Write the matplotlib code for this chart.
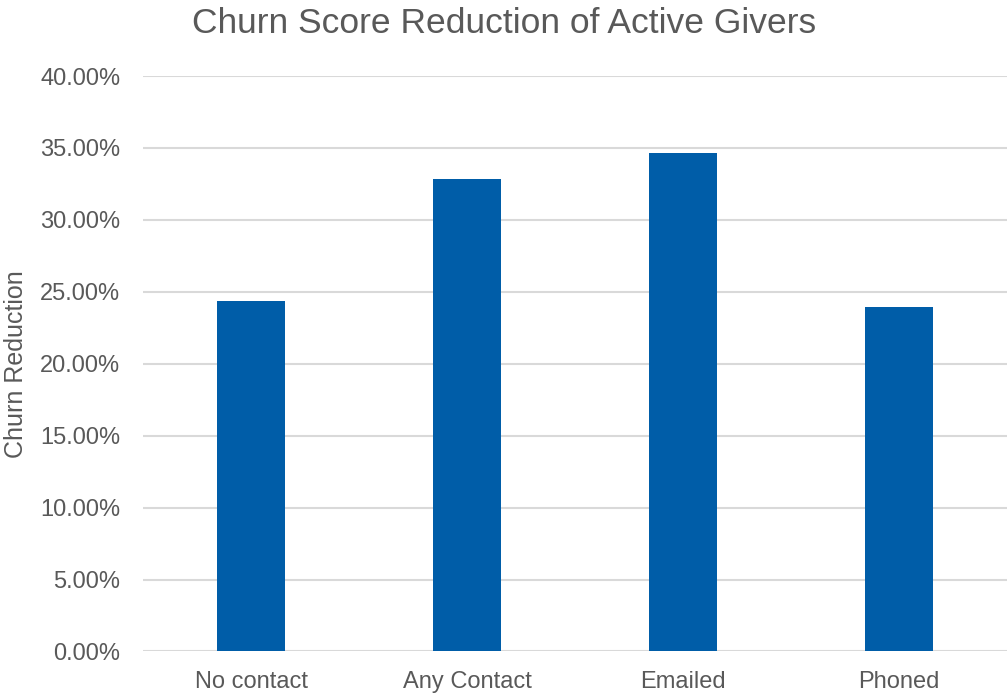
import matplotlib.pyplot as plt
from matplotlib.ticker import PercentFormatter

# Data
categories = ['No contact', 'Any Contact', 'Emailed', 'Phoned']
churn_reduction = [0.2433, 0.3282, 0.3467, 0.2398]
y_ticks = [0.0, 0.05, 0.10, 0.15, 0.20, 0.25, 0.30, 0.35, 0.40]

bar_color = '#005DA8'
text_color = '#595959'
grid_color = '#D9D9D9'

plt.rcParams['font.family'] = ['Liberation Sans', 'DejaVu Sans']

fig = plt.figure(figsize=(10.08, 6.95), dpi=100)
ax = fig.add_axes([0.1422, 0.0626, 0.857, 0.828])

x = range(len(categories))
ax.bar(x, churn_reduction, width=0.315, color=bar_color, zorder=3)

ax.set_xlim(-0.5, len(categories) - 0.5)
ax.set_ylim(0, 0.40)
ax.set_yticks(y_ticks)
ax.yaxis.set_major_formatter(PercentFormatter(1.0, decimals=2))
ax.set_xticks(list(x))
ax.set_xticklabels(categories)

# Light horizontal gridlines, no spines or tick marks
ax.grid(axis='y', color=grid_color, linewidth=1.5, zorder=0)
for side in ['top', 'right', 'left', 'bottom']:
    ax.spines[side].set_visible(False)
ax.tick_params(axis='both', length=0, labelsize=17, colors=text_color)
ax.tick_params(axis='y', pad=16.5)
ax.tick_params(axis='x', pad=14)

ax.set_ylabel('Churn Reduction', fontsize=18, color=text_color)
ax.yaxis.set_label_coords(-0.133, 0.5)
fig.text(0.5, 0.966, 'Churn Score Reduction of Active Givers',
         ha='center', va='center', fontsize=25.5, color=text_color)

fig.savefig('out.png', dpi=100)
